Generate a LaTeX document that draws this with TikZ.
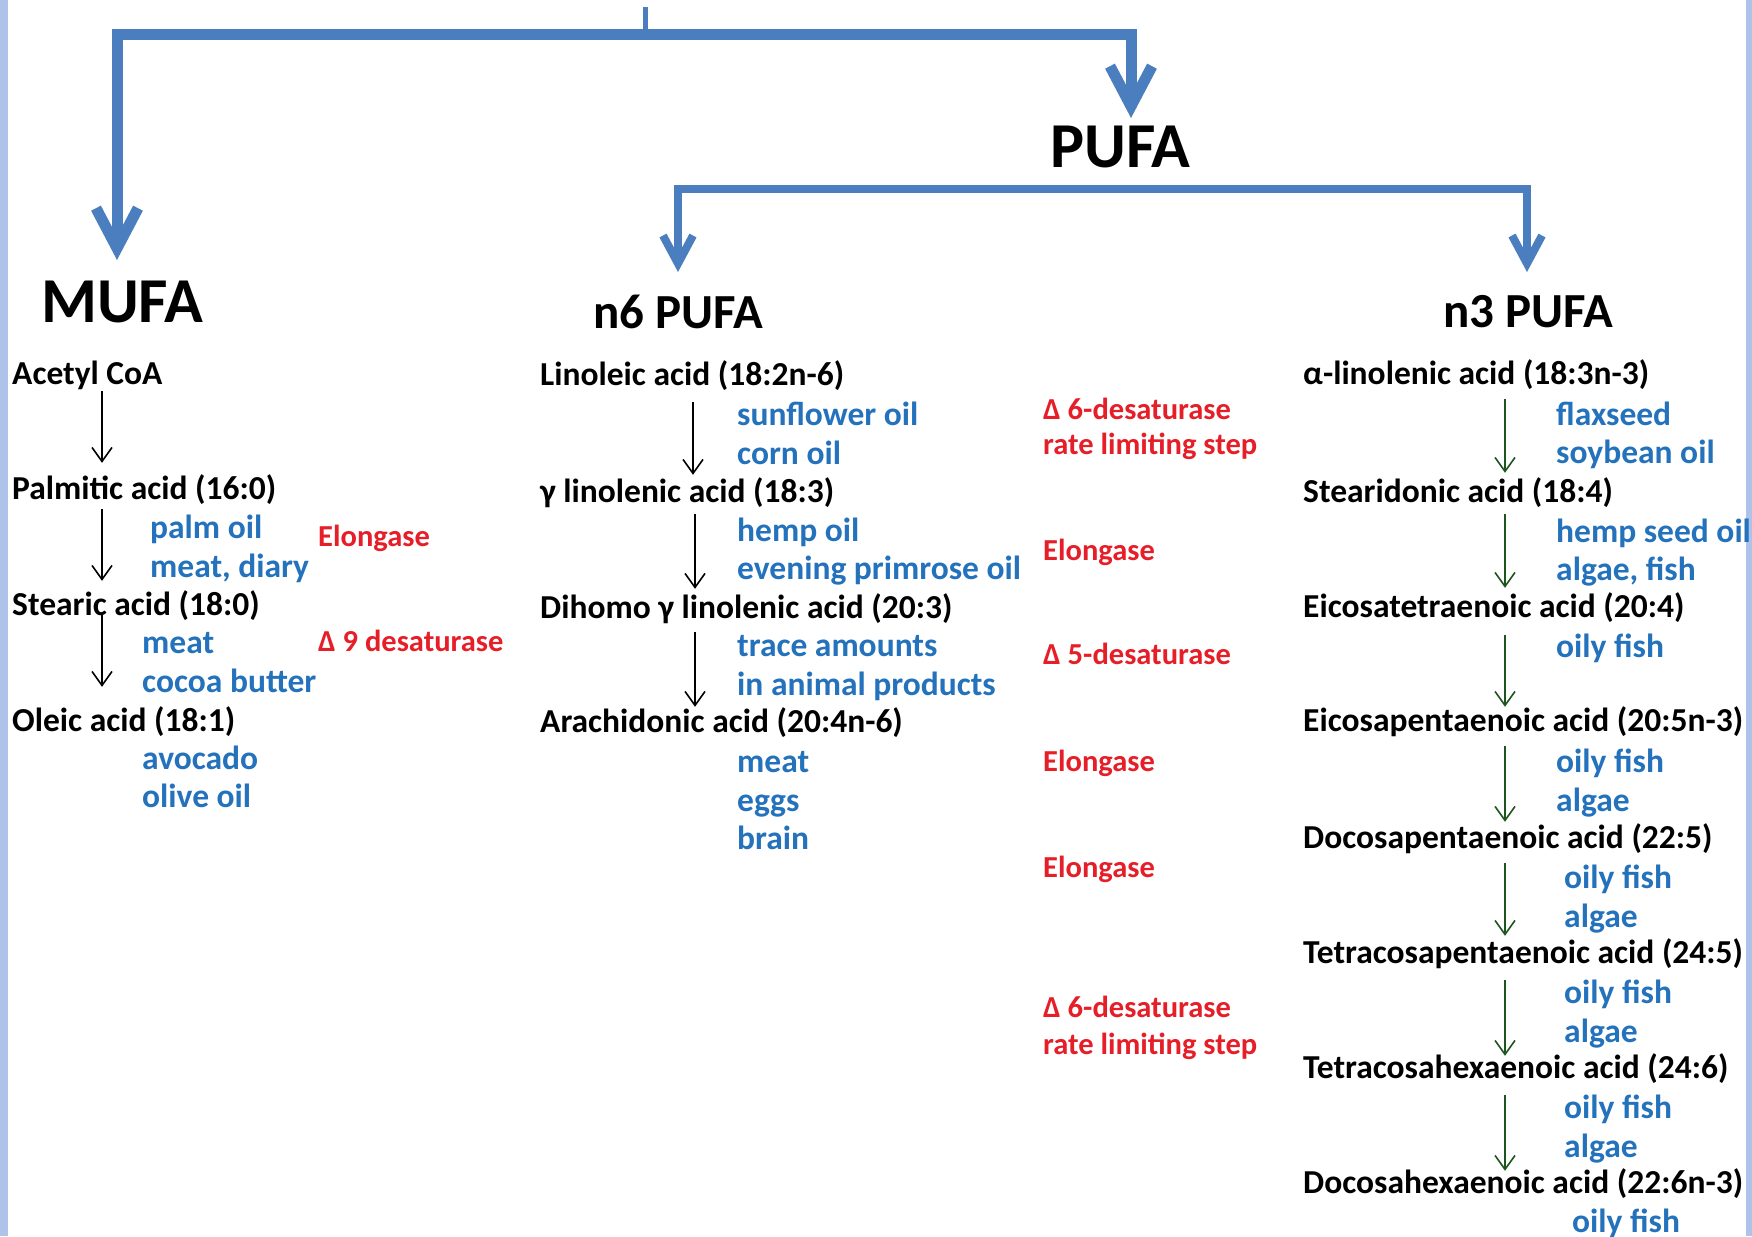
\documentclass[tikz,border=0pt]{standalone}
\usepackage{fontspec}
\setmainfont{Carlito}
\usetikzlibrary{arrows.meta}
\definecolor{treeblue}{RGB}{74,126,190}
\definecolor{srcblue}{RGB}{36,114,188}
\definecolor{enzred}{RGB}{230,30,40}
\definecolor{arrgreen}{RGB}{30,85,30}
\definecolor{stripblue}{RGB}{174,194,234}
\begin{document}
\begin{tikzpicture}[x=1bp,y=-1bp,
  acid/.style={anchor=west,inner sep=0pt,font=\fontsize{33.5bp}{36bp}\selectfont\bfseries,text height=26bp,text depth=6bp},
  src/.style={acid,text=srcblue},
  enz/.style={anchor=west,inner sep=0pt,font=\fontsize{30.5bp}{34bp}\selectfont\bfseries,text=enzred,text height=23bp,text depth=5bp},
  head/.style={anchor=base west,inner sep=0pt,font=\fontsize{64bp}{70bp}\selectfont\bfseries},
  subhead/.style={anchor=base,inner sep=0pt,font=\fontsize{49bp}{54bp}\selectfont\bfseries},
  stubline/.style={draw=treeblue,line width=5bp},
  bigarr/.style={draw=treeblue,line width=11bp,-{Straight Barb[length=40bp,width=42bp]}},
  midarr/.style={draw=treeblue,line width=8bp,-{Straight Barb[length=28bp,width=30bp]}},
  blkarr/.style={draw=black,line width=1.6bp,-{Straight Barb[length=14bp,width=20bp]}},
  grnarr/.style={draw=arrgreen,line width=1.6bp,-{Straight Barb[length=14bp,width=20bp]}}
]
\fill[white] (0,0) rectangle (1752,1236);
\path[use as bounding box] (0,0) rectangle (1752,1236);
\fill[stripblue] (0,0) rectangle (8,1236);
\fill[stripblue] (1746,0) rectangle (1752,1236);

% headers
\node[head] (mufa) at (41,322) {MUFA};
\node[head] (pufa) at (1050,167) {PUFA};
\node[subhead] (n6) at (678,328) {n6 PUFA};
\node[subhead] (n3) at (1528,327) {n3 PUFA};

% tree
\coordinate (root) at (645,7);
\coordinate (split) at (645,34);
\coordinate (mufatip) at (117,260);
\coordinate (pufatip) at (1131,118);
\draw[stubline] (root) -- (split);
\draw[bigarr] (split) -| (mufatip);
\draw[bigarr] (split) -| (pufatip);
\coordinate (fork) at (1100,189);
\coordinate (n6tip) at (678,272);
\coordinate (n3tip) at (1527,272);
\draw[midarr] (fork) -| (n6tip);
\draw[midarr] (fork) -| (n3tip);

% MUFA column
\node[acid] (acetyl) at (12,374) {Acetyl CoA};
\node[acid] (palmitic) at (12,489) {Palmitic acid (16:0)};
\node[acid] (stearic) at (12,605) {Stearic acid (18:0)};
\node[acid] (oleic) at (12,721) {Oleic acid (18:1)};
\node[src] (palmoil) at (150,528) {palm oil};
\node[src] (meatdiary) at (150,567) {meat, diary};
\node[src] (meatA) at (142,643) {meat};
\node[src] (cocoa) at (142,682) {cocoa butter};
\node[src] (avocado) at (142,759) {avocado};
\node[src] (olive) at (142,797) {olive oil};
\node[enz] (elongA) at (318,537) {Elongase};
\node[enz] (d9) at (318,642) {Δ 9 desaturase};
\draw[blkarr] ([xshift=90bp,yshift=-1bp]acetyl.south west) -- ([xshift=90bp,yshift=10bp]palmitic.north west);
\draw[blkarr] ([xshift=90bp,yshift=-4bp]palmitic.south west) -- ([xshift=90bp,yshift=8bp]stearic.north west);
\draw[blkarr] ([xshift=90bp,yshift=8bp]stearic.south west) -- ([xshift=90bp,yshift=18bp]oleic.north west);

% n6 column
\node[acid] (linoleic) at (540,375) {Linoleic acid (18:2n-6)};
\node[acid] (gla) at (540,492) {γ linolenic acid (18:3)};
\node[acid] (dgla) at (540,608) {Dihomo γ linolenic acid (20:3)};
\node[acid] (arach) at (540,722) {Arachidonic acid (20:4n-6)};
\node[src] (sunflower) at (737,415) {sunflower oil};
\node[src] (corn) at (737,454) {corn oil};
\node[src] (hemp) at (737,531) {hemp oil};
\node[src] (evening) at (737,569) {evening primrose oil};
\node[src] (trace) at (737,646) {trace amounts};
\node[src] (animal) at (737,685) {in animal products};
\node[src] (meatB) at (737,762) {meat};
\node[src] (eggs) at (737,801) {eggs};
\node[src] (brain) at (737,839) {brain};
\draw[blkarr] ([xshift=153bp,yshift=-11bp]linoleic.south west) -- ([xshift=153bp,yshift=1bp]gla.north west);
\draw[blkarr] ([xshift=155bp,yshift=-6bp]gla.south west) -- ([xshift=155bp,yshift=3bp]dgla.north west);
\draw[blkarr] ([xshift=155bp,yshift=-8bp]dgla.south west) -- ([xshift=155bp,yshift=-1bp]arach.north west);

% enzymes
\node[enz] (d6a) at (1043,410) {Δ 6-desaturase};
\node[enz] (rlsa) at (1043,445) {rate limiting step};
\node[enz] (elongB) at (1043,551) {Elongase};
\node[enz] (d5) at (1043,655) {Δ 5-desaturase};
\node[enz] (elongC) at (1043,762) {Elongase};
\node[enz] (elongD) at (1043,868) {Elongase};
\node[enz] (d6b) at (1043,1008) {Δ 6-desaturase};
\node[enz] (rlsb) at (1043,1045) {rate limiting step};

% n3 column
\node[acid] (ala) at (1303,374) {α-linolenic acid (18:3n-3)};
\node[acid] (sda) at (1303,492) {Stearidonic acid (18:4)};
\node[acid] (eta) at (1303,607) {Eicosatetraenoic acid (20:4)};
\node[acid] (epa) at (1303,721) {Eicosapentaenoic acid (20:5n-3)};
\node[acid] (dpa) at (1303,838) {Docosapentaenoic acid (22:5)};
\node[acid] (tpa) at (1303,953) {Tetracosapentaenoic acid (24:5)};
\node[acid] (tha) at (1303,1068) {Tetracosahexaenoic acid (24:6)};
\node[acid] (dha) at (1303,1183) {Docosahexaenoic acid (22:6n-3)};
\node[src] (flax) at (1556,415) {flaxseed};
\node[src] (soy) at (1556,453) {soybean oil};
\node[src] (hempseed) at (1556,532) {hemp seed oil};
\node[src] (algaefish) at (1556,570) {algae, fish};
\node[src] (oilyA) at (1556,647) {oily fish};
\node[src] (oilyB) at (1556,762) {oily fish};
\node[src] (algaeB) at (1556,801) {algae};
\node[src] (oilyC) at (1564,878) {oily fish};
\node[src] (algaeC) at (1564,917) {algae};
\node[src] (oilyD) at (1564,993) {oily fish};
\node[src] (algaeD) at (1564,1032) {algae};
\node[src] (oilyE) at (1564,1108) {oily fish};
\node[src] (algaeE) at (1564,1147) {algae};
\node[src] (oilyF) at (1572,1222) {oily fish};
\draw[grnarr] ([xshift=202bp,yshift=-9bp]ala.south west) -- ([xshift=202bp,yshift=3bp]sda.north west);
\draw[grnarr] ([xshift=202bp,yshift=-6bp]sda.south west) -- ([xshift=202bp,yshift=3bp]eta.north west);
\draw[grnarr] ([xshift=202bp,yshift=-12bp]eta.south west) -- ([xshift=202bp,yshift=-2bp]epa.north west);
\draw[grnarr] ([xshift=202bp,yshift=-9bp]epa.south west) -- ([xshift=202bp,yshift=0bp]dpa.north west);
\draw[grnarr] ([xshift=202bp,yshift=-9bp]dpa.south west) -- ([xshift=202bp,yshift=1bp]tpa.north west);
\draw[grnarr] ([xshift=202bp,yshift=-11bp]tpa.south west) -- ([xshift=202bp,yshift=-4bp]tha.north west);
\draw[grnarr] ([xshift=202bp,yshift=-11bp]tha.south west) -- ([xshift=202bp,yshift=-4bp]dha.north west);
\end{tikzpicture}
\end{document}
